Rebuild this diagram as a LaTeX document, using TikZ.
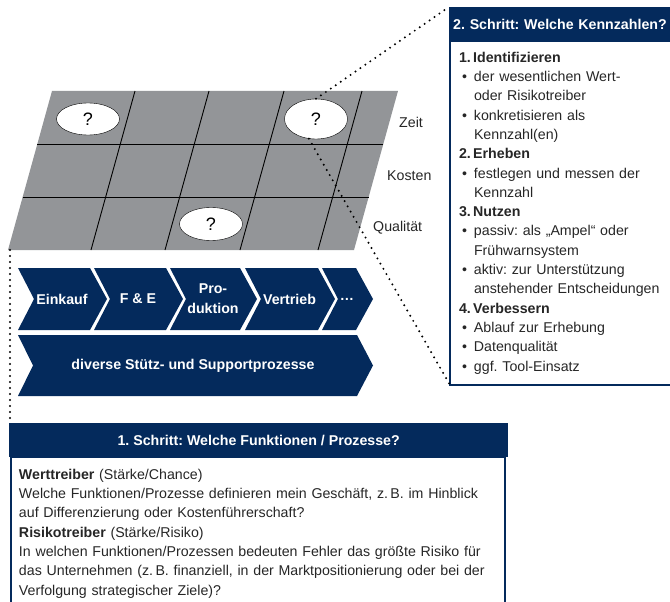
\documentclass[tikz,border=0pt]{standalone}
\usepackage{fontspec}
\setmainfont{Liberation Sans}
\usetikzlibrary{shapes.geometric}
\definecolor{navy}{RGB}{4,42,92}
\definecolor{gridgray}{RGB}{147,149,152}
\frenchspacing
\newcommand{\fs}{\fontsize{14.2}{19.3}\selectfont}
\newcommand{\bul}{\hspace*{3pt}\makebox[12pt][l]{•}}
\newcommand{\ind}{\hspace*{15pt}}

\begin{document}
\begin{tikzpicture}[x=1pt,y=1pt,
  txt/.style={font=\fs, text=black!85, align=left},
  lbl/.style={font=\fs, text=black!85, inner sep=0pt, anchor=west},
  head/.style={fill=navy, text=white, font=\bfseries\fs, inner sep=0pt, anchor=north west},
  chevtxt/.style={text=white, font=\bfseries\fontsize{14.2}{20}\selectfont, align=center, inner sep=0pt},
  qmark/.style={ellipse, draw, fill=white, minimum width=63, minimum height=32, inner sep=0pt, font=\fontsize{18}{18}\selectfont},
  dotline/.style={line width=2.2pt, line cap=round, dash pattern=on 0pt off 6pt},
  box/.style={draw=navy, line width=2pt, outer sep=0pt, anchor=north west}]
\clip (0,0) rectangle (670,-602);

\begin{scope}[shift={(8,-250)}, xslant=0.2767]
\fill[gridgray] (0,0) rectangle (346,159);
\foreach \c in {83,157,232,310} \draw[line width=0.9pt] (\c,0) -- (\c,159);
\foreach \r in {53,106} \draw[line width=0.9pt] (0,\r) -- (346,\r);
\end{scope}
\coordinate (gbl) at (10,-250);

\node[qmark] (q1) at (88,-119) {?};
\node[qmark, minimum height=40] (q2) at (316,-119) {?};
\node[qmark, minimum height=33] (q3) at (211,-224) {?};

\node[lbl] (zeit) at (399,-122) {Zeit};
\node[lbl] (kosten) at (387,-176) {Kosten};
\node[lbl] (qual) at (373,-228) {Qualität};

\foreach \a/\b/\t/\n in {18/90/Einkauf/ek, 94/166/F \& E/fe, 170/240/Pro-\\duktion/pr, 245/318/Vertrieb/vt, 322/356/{\ldots}/etc}{
  \fill[navy] (\a,-268) -- (\b,-268) -- (\b+17,-299) -- (\b,-330) -- (\a,-330) -- (\a+16,-299) -- cycle;
  \node[chevtxt] (\n) at ({(\a+\b)/2+8},-299) {\t};
}
\fill[navy] (18,-335) -- (357,-335) -- (373,-365.5) -- (357,-396) -- (18,-396) -- (33,-365.5) -- cycle;
\node[chevtxt] (sup) at (193,-365.5) {diverse Stütz- und Supportprozesse};

\node[head, minimum height=34, text width=232, align=left, inner xsep=4pt] (kzhead) at (449,-7) {2. Schritt: Welche Kennzahlen?};
\node[box, txt, text width=225, minimum height=344, inner xsep=9pt] (kzbox) at (450,-41) {%
\textbf{1.\,Identifizieren}\\
\bul der wesentlichen Wert-\\
\ind oder Risikotreiber\\
\bul konkretisieren als\\
\ind Kennzahl(en)\\
\textbf{2.\,Erheben}\\
\bul festlegen und messen der\\
\ind Kennzahl\\
\textbf{3.\,Nutzen}\\
\bul passiv: als „Ampel“ oder\\
\ind Frühwarnsystem\\
\bul aktiv: zur Unterstützung\\
\ind anstehender Entscheidungen\\
\textbf{4.\,Verbessern}\\
\bul Ablauf zur Erhebung\\
\bul Datenqualität\\
\bul ggf. Tool-Einsatz};

\node[head, minimum width=499, minimum height=34, align=center] (fkthead) at (9,-423) {1. Schritt: Welche Funktionen / Prozesse?};
\node[box, txt, text width=478, inner xsep=8pt, inner ysep=12pt] (fktbox) at (11,-457) {%
\textbf{Werttreiber} (Stärke/Chance)\\
Welche Funktionen/Prozesse definieren mein Geschäft, z.\,B. im Hinblick\\
auf Differenzierung oder Kostenführerschaft?\\
\textbf{Risikotreiber} (Stärke/Risiko)\\
In welchen Funktionen/Prozessen bedeuten Fehler das größte Risiko für\\
das Unternehmen (z.\,B. finanziell, in der Marktpositionierung oder bei der\\
Verfolgung strategischer Ziele)?\\[8pt]};

\draw[dotline] (gbl) -- (gbl |- fkthead.north);
\draw[dotline] (q2.north) -- (kzhead.north west);
\draw[dotline] (q2.250) -- (kzbox.south west);
\end{tikzpicture}
\end{document}
